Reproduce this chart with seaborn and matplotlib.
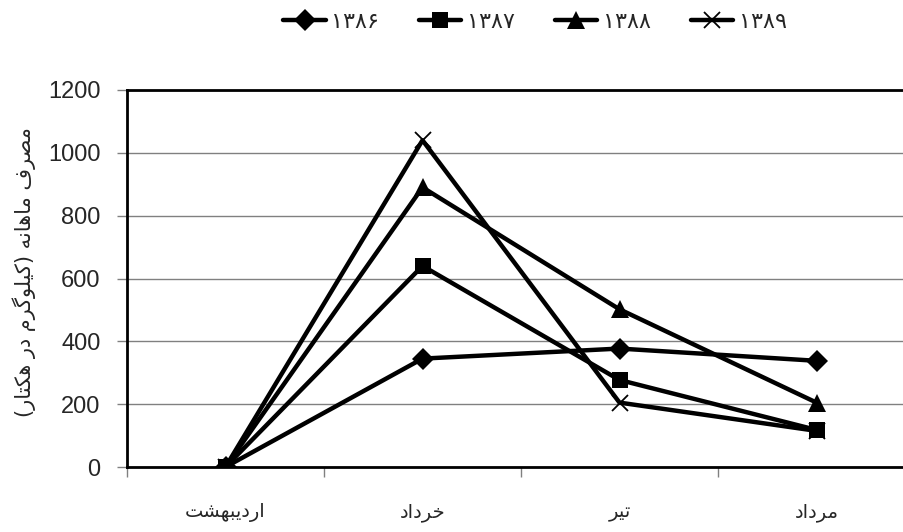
import pandas as pd
import matplotlib
matplotlib.use('Agg')
import matplotlib.pyplot as plt
import seaborn as sns
from matplotlib.ticker import FixedLocator

# Persian letters -> presentation forms (isolated, final, initial, medial)
FORMS = {
    'ا': ('\uFE8D', '\uFE8E'),
    'د': ('\uFEA9', '\uFEAA'),
    'ر': ('\uFEAD', '\uFEAE'),
    'و': ('\uFEED', '\uFEEE'),
    'ب': ('\uFE8F', '\uFE90', '\uFE91', '\uFE92'),
    'ت': ('\uFE95', '\uFE96', '\uFE97', '\uFE98'),
    'خ': ('\uFEA5', '\uFEA6', '\uFEA7', '\uFEA8'),
    'ش': ('\uFEB5', '\uFEB6', '\uFEB7', '\uFEB8'),
    'ص': ('\uFEB9', '\uFEBA', '\uFEBB', '\uFEBC'),
    'ف': ('\uFED1', '\uFED2', '\uFED3', '\uFED4'),
    'ل': ('\uFEDD', '\uFEDE', '\uFEDF', '\uFEE0'),
    'م': ('\uFEE1', '\uFEE2', '\uFEE3', '\uFEE4'),
    'ن': ('\uFEE5', '\uFEE6', '\uFEE7', '\uFEE8'),
    'ه': ('\uFEE9', '\uFEEA', '\uFEEB', '\uFEEC'),
    'ی': ('\uFBFC', '\uFBFD', '\uFBFE', '\uFBFF'),
    'ک': ('\uFB8E', '\uFB8F', '\uFB90', '\uFB91'),
    'گ': ('\uFB92', '\uFB93', '\uFB94', '\uFB95'),
}


def shape(text):
    """Very small Persian shaper: contextual forms + visual (reversed) order"""
    out = []
    for i, ch in enumerate(text):
        f = FORMS.get(ch)
        if f is None:
            out.append(ch)
            continue
        prev = text[i - 1] if i > 0 else ''
        nxt = text[i + 1] if i + 1 < len(text) else ''
        join_prev = prev in FORMS and len(FORMS[prev]) == 4
        join_next = len(f) == 4 and nxt in FORMS
        out.append(f[(1 if join_prev else 0) + (2 if join_next else 0)])
    mirror = {'(': ')', ')': '('}
    return ''.join(mirror.get(c, c) for c in reversed(out))


months = ['اردیبهشت', 'خرداد', 'تیر', 'مرداد']
years = ['۱۳۸۶', '۱۳۸۷', '۱۳۸۸', '۱۳۸۹']
v1386 = [0, 345, 377, 338]
v1387 = [0, 640, 277, 118]
v1388 = [0, 890, 502, 205]
v1389 = [0, 1040, 205, 115]
y_label = 'مصرف ماهانه (کیلوگرم در هکتار)'

series = [v1386, v1387, v1388, v1389]
markers = ['D', 's', '^', 'x']
msizes = [11, 11.5, 13, 12]

sns.set_style('white')
plt.rcParams['font.family'] = ['Liberation Sans', 'DejaVu Sans']

fig = plt.figure(figsize=(9.04, 5.32), dpi=100)
ax = fig.add_axes([127 / 904, 1 - 467 / 532, 788 / 904, 377 / 532])

for year, vals, mk, ms in zip(years, series, markers, msizes):
    df = pd.DataFrame({'month': months, 'value': vals})
    sns.lineplot(data=df, x='month', y='value', ax=ax, color='black',
                 linewidth=3.2, marker=mk, markersize=ms,
                 markeredgewidth=1.3 if mk == 'x' else 0,
                 markeredgecolor='black', label=year, zorder=3)

ax.set_xlim(-0.5, 3.5)
ax.set_ylim(0, 1200)
ax.set_yticks(range(0, 1201, 200))
ax.yaxis.grid(True, color='#808080', linewidth=1)
ax.set_axisbelow(True)

# category boundaries as ticks, labels at category centres
ax.xaxis.set_major_locator(FixedLocator([-0.5, 0.5, 1.5, 2.5]))
ax.xaxis.set_minor_locator(FixedLocator([0, 1, 2, 3]))
ax.set_xticklabels([])
ax.set_xticklabels([shape(m) for m in months], minor=True,
                   fontsize=14, family=['DejaVu Sans'])
ax.tick_params(axis='x', which='major', length=7, width=1, color='#808080',
               direction='out', bottom=True)
ax.tick_params(axis='x', which='minor', length=0, pad=26)
ax.tick_params(axis='y', length=7, width=1, color='#808080', direction='out',
               left=True, labelsize=17, pad=12)

for s in ['left', 'bottom', 'top']:
    ax.spines[s].set_color('black')
    ax.spines[s].set_linewidth(2)
ax.spines['right'].set_visible(False)

ax.set_xlabel('')
ax.set_ylabel('')
fig.text(24 / 904, 1 - 272 / 532, shape(y_label), rotation=90,
         ha='center', va='center', fontsize=15, family=['DejaVu Sans'])

handles, labels = ax.get_legend_handles_labels()
ax.legend_.remove()
fig.legend(handles, labels, loc='center', bbox_to_anchor=(535 / 904, 1 - 22 / 532),
           ncol=4, frameon=False, handlelength=1.9,
           columnspacing=1.8, handletextpad=0.25,
           prop={'family': ['DejaVu Sans'], 'size': 16})

fig.savefig('out.png', dpi=100)
